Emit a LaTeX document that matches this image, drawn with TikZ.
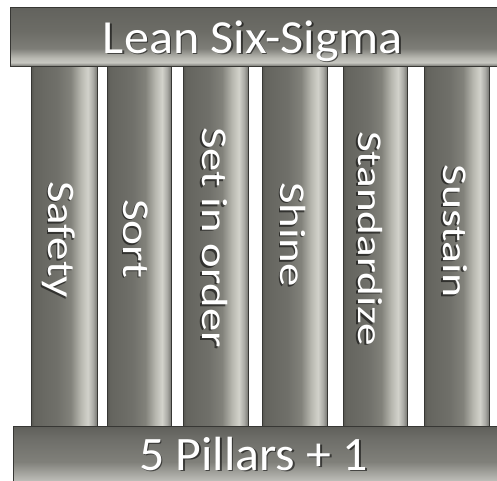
\documentclass[tikz,border=0pt]{standalone}
\usepackage{fontspec}
\setmainfont{Carlito}
\definecolor{pA}{RGB}{85,85,80}
\definecolor{pB}{RGB}{100,100,94}
\definecolor{pC}{RGB}{112,112,106}
\definecolor{pD}{RGB}{130,130,123}
\definecolor{pE}{RGB}{185,185,177}
\definecolor{pF}{RGB}{210,210,203}
\definecolor{pG}{RGB}{170,170,165}
\definecolor{pH}{RGB}{120,120,115}
\definecolor{tA}{RGB}{120,120,115}
\definecolor{tB}{RGB}{200,200,194}
\definecolor{tC}{RGB}{185,185,178}
\definecolor{tD}{RGB}{125,125,119}
\definecolor{tE}{RGB}{108,108,102}
\definecolor{tF}{RGB}{98,98,93}
\definecolor{bA}{RGB}{228,228,224}
\definecolor{bB}{RGB}{190,190,185}
\definecolor{bC}{RGB}{128,128,122}
\definecolor{bD}{RGB}{110,110,105}
\definecolor{bE}{RGB}{95,95,90}
\definecolor{edge}{RGB}{55,55,52}
\pgfdeclarehorizontalshading{pillarshade}{100bp}{color(0bp)=(pA); color(25bp)=(pA); color(27.5bp)=(pB); color(45bp)=(pC); color(55bp)=(pD); color(63bp)=(pE); color(68bp)=(pF); color(72bp)=(pG); color(75bp)=(pH); color(100bp)=(pH)}
\pgfdeclareverticalshading{topbeamshade}{100bp}{color(0bp)=(tA); color(25bp)=(tA); color(28bp)=(tB); color(32bp)=(tC); color(40bp)=(tD); color(55bp)=(tE); color(75bp)=(tF); color(100bp)=(tF)}
\pgfdeclareverticalshading{botbeamshade}{100bp}{color(0bp)=(bA); color(25bp)=(bA); color(32bp)=(bB); color(47bp)=(bC); color(65bp)=(bD); color(75bp)=(bE); color(100bp)=(bE)}
\tikzset{
  pillar/.style={shading=pillarshade, draw=edge, line width=0.8pt},
  topbeam/.style={shading=topbeamshade, draw=edge, line width=0.8pt},
  botbeam/.style={shading=botbeamshade, draw=edge, line width=0.8pt},
  label/.style={inner sep=0pt, text=white},
  shadow/.style={inner sep=0pt, text=black, opacity=0.55},
}
\begin{document}
\begin{tikzpicture}[x=1pt,y=-1pt]
\useasboundingbox (0,0) rectangle (497,480);
\clip (0,0) rectangle (497,480);
% pillars
\shade[pillar] (31,66) rectangle (97,426);
\shade[pillar] (107,66) rectangle (171,426);
\shade[pillar] (183,66) rectangle (248,426);
\shade[pillar] (262,66) rectangle (327,426);
\shade[pillar] (343,66) rectangle (407,426);
\shade[pillar] (424,66) rectangle (489,426);
% beams
\shade[topbeam] (10,7) rectangle (510,66);
\shade[botbeam] (13,426) rectangle (510,490);
% beam texts
\node[shadow, anchor=base] at (254.5,54.5) {\resizebox{300pt}{\height}{\fontsize{47.5}{50}\selectfont Lean Six-Sigma}};
\node[label, anchor=base] (ttop) at (253,53) {\resizebox{300pt}{\height}{\fontsize{47.5}{50}\selectfont Lean Six-Sigma}};
\node[shadow, anchor=base] at (255,471.5) {\resizebox{229pt}{\height}{\fontsize{48}{50}\selectfont 5 Pillars + 1}};
\node[label, anchor=base] (tbot) at (253.5,470) {\resizebox{229pt}{\height}{\fontsize{48}{50}\selectfont 5 Pillars + 1}};
% pillar texts
\node[shadow, rotate=-90, anchor=base] at (47,241) {\resizebox{117pt}{\height}{\fontsize{39}{40}\selectfont Safety}};
\node[label, rotate=-90, anchor=base] (tsafety) at (48.5,239.5) {\resizebox{117pt}{\height}{\fontsize{39}{40}\selectfont Safety}};
\node[shadow, rotate=-90, anchor=base] at (122,240) {\resizebox{79pt}{\height}{\fontsize{38}{40}\selectfont Sort}};
\node[label, rotate=-90, anchor=base] (tsort) at (123.5,238.5) {\resizebox{79pt}{\height}{\fontsize{38}{40}\selectfont Sort}};
\node[shadow, rotate=-90, anchor=base] at (200.5,239) {\resizebox{221pt}{\height}{\fontsize{36.4}{40}\selectfont Set in order}};
\node[label, rotate=-90, anchor=base] (tset) at (202,237.5) {\resizebox{221pt}{\height}{\fontsize{36.4}{40}\selectfont Set in order}};
\node[shadow, rotate=-90, anchor=base] at (279,236) {\resizebox{105pt}{\height}{\fontsize{36.4}{40}\selectfont Shine}};
\node[label, rotate=-90, anchor=base] (tshine) at (280.5,234.5) {\resizebox{105pt}{\height}{\fontsize{36.4}{40}\selectfont Shine}};
\node[shadow, rotate=-90, anchor=base] at (356.5,240) {\resizebox{215pt}{\height}{\fontsize{34.8}{40}\selectfont Standardize}};
\node[label, rotate=-90, anchor=base] (tstd) at (358,238.5) {\resizebox{215pt}{\height}{\fontsize{34.8}{40}\selectfont Standardize}};
\node[shadow, rotate=-90, anchor=base] at (441.5,232.5) {\resizebox{134pt}{\height}{\fontsize{34.8}{40}\selectfont Sustain}};
\node[label, rotate=-90, anchor=base] (tsus) at (443,231) {\resizebox{134pt}{\height}{\fontsize{34.8}{40}\selectfont Sustain}};
\end{tikzpicture}
\end{document}
